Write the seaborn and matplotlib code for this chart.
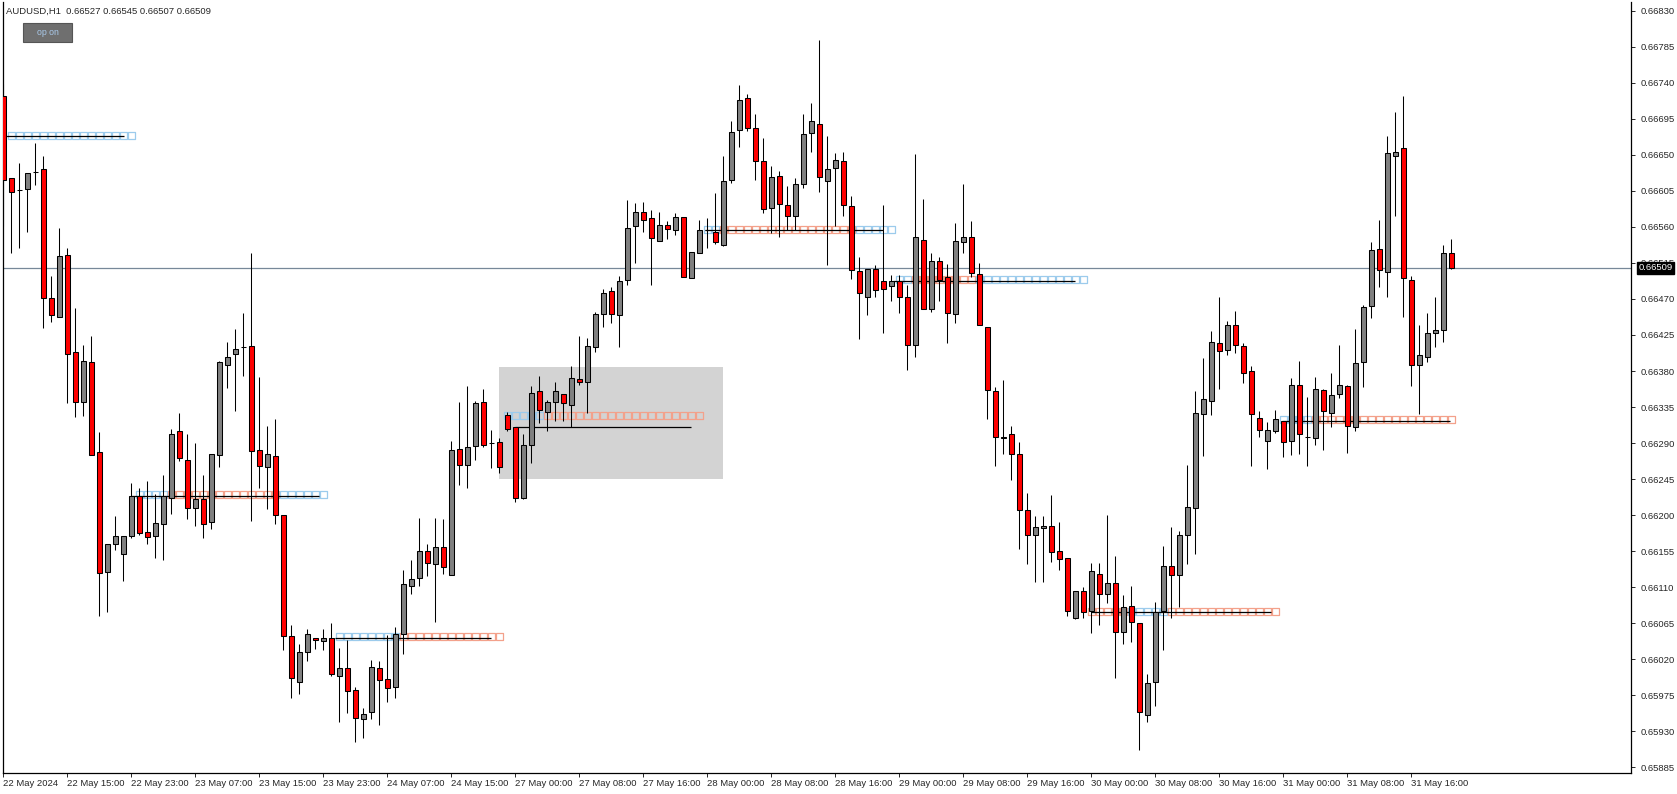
"""AUDUSD H1 candlestick chart, MT4 style."""
import matplotlib

matplotlib.use("Agg")
import matplotlib.pyplot as plt
import numpy as np
import pandas as pd
import seaborn as sns

# OHLC in points (1 point = 0.00001)
open_pts = [
    66723, 66621, 66606, 66607, 66628, 66632, 66471, 66447, 66525, 66404,
    66341, 66391, 66279, 66129, 66164, 66151, 66174, 66224, 66179, 66174,
    66189, 66222, 66305, 66269, 66209, 66220, 66191, 66275, 66388, 66401,
    66410, 66411, 66281, 66260, 66274, 66200, 66049, 65992, 66029, 66047,
    66043, 66047, 65999, 66009, 65981, 65945, 65954, 66009, 65995, 65985,
    66051, 66112, 66121, 66155, 66139, 66160, 66125, 66282, 66262, 66286,
    66341, 66290, 66291, 66325, 66310, 66222, 66287, 66355, 66329, 66341,
    66351, 66337, 66370, 66366, 66410, 66451, 66480, 66450, 66494, 66561,
    66579, 66571, 66543, 66562, 66556, 66572, 66496, 66528, 66556, 66554,
    66538, 66619, 66681, 66721, 66683, 66642, 66583, 66623, 66587, 66573,
    66613, 66677, 66689, 66617, 66634, 66642, 66586, 66505, 66473, 66507,
    66492, 66486, 66493, 66472, 66413, 66544, 66457, 66517, 66497, 66451,
    66541, 66547, 66501, 66435, 66355, 66296, 66301, 66276, 66206, 66175,
    66184, 66186, 66155, 66146, 66072, 66105, 66080, 66126, 66102, 66115,
    66054, 66086, 66065, 65950, 65991, 66080, 66136, 66125, 66175, 66209,
    66326, 66343, 66415, 66406, 66437, 66411, 66380, 66321, 66293, 66305,
    66318, 66292, 66362, 66298, 66296, 66356, 66327, 66351, 66361, 66310,
    66391, 66461, 66532, 66504, 66648, 66658, 66494, 66387, 66398, 66428,
    66431, 66527,
]
high_pts = [
    66739, 66621, 66640, 66627, 66665, 66648, 66499, 66559, 66534, 66459,
    66412, 66424, 66304, 66164, 66199, 66174, 66240, 66234, 66242, 66226,
    66250, 66307, 66328, 66301, 66290, 66250, 66276, 66392, 66416, 66432,
    66453, 66527, 66372, 66311, 66320, 66200, 66063, 66039, 66058, 66047,
    66058, 66065, 66034, 66044, 65985, 65959, 66019, 66018, 66050, 66060,
    66131, 66144, 66197, 66164, 66196, 66195, 66293, 66341, 66361, 66342,
    66357, 66306, 66296, 66329, 66310, 66301, 66361, 66374, 66344, 66366,
    66351, 66386, 66424, 66421, 66454, 66482, 66485, 66499, 66594, 66590,
    66591, 66581, 66579, 66567, 66577, 66572, 66529, 66569, 66571, 66602,
    66649, 66692, 66737, 66726, 66701, 66671, 66636, 66630, 66611, 66621,
    66701, 66715, 66793, 66673, 66652, 66653, 66599, 66522, 66507, 66512,
    66587, 66500, 66500, 66488, 66651, 66595, 66527, 66522, 66514, 66565,
    66614, 66567, 66515, 66435, 66360, 66369, 66311, 66291, 66228, 66199,
    66199, 66225, 66192, 66147, 66105, 66110, 66140, 66140, 66200, 66149,
    66100, 66111, 66065, 66001, 66092, 66162, 66185, 66180, 66263, 66355,
    66396, 66430, 66472, 66443, 66455, 66415, 66386, 66330, 66316, 66331,
    66318, 66371, 66393, 66348, 66372, 66357, 66378, 66412, 66362, 66433,
    66462, 66541, 66569, 66673, 66704, 66723, 66499, 66438, 66453, 66472,
    66537, 66545,
]
low_pts = [
    66561, 66527, 66534, 66554, 66612, 66434, 66441, 66447, 66340, 66323,
    66324, 66275, 66074, 66079, 66157, 66118, 66172, 66175, 66164, 66147,
    66144, 66201, 66268, 66195, 66186, 66171, 66183, 66260, 66359, 66330,
    66374, 66193, 66234, 66208, 66189, 66031, 65971, 65976, 66018, 66033,
    66031, 65999, 65941, 65953, 65917, 65921, 65945, 65938, 65966, 65972,
    66027, 66102, 66112, 66124, 66066, 66126, 66125, 66237, 66234, 66269,
    66285, 66259, 66253, 66305, 66216, 66220, 66265, 66315, 66305, 66318,
    66317, 66310, 66362, 66327, 66404, 66435, 66440, 66410, 66487, 66515,
    66554, 66487, 66542, 66545, 66550, 66498, 66496, 66528, 66534, 66539,
    66536, 66615, 66660, 66680, 66618, 66577, 66553, 66547, 66556, 66556,
    66609, 66653, 66603, 66512, 66561, 66574, 66495, 66420, 66450, 66473,
    66427, 66467, 66453, 66381, 66398, 66458, 66454, 66467, 66415, 66440,
    66527, 66498, 66437, 66320, 66261, 66276, 66244, 66158, 66139, 66116,
    66116, 66141, 66132, 66074, 66070, 66071, 66053, 66063, 66090, 65996,
    66039, 66042, 65907, 65941, 65962, 66032, 66072, 66085, 66139, 66152,
    66274, 66325, 66357, 66400, 66402, 66365, 66261, 66297, 66257, 66303,
    66273, 66275, 66276, 66261, 66288, 66281, 66310, 66346, 66277, 66305,
    66360, 66446, 66485, 66472, 66574, 66448, 66361, 66326, 66391, 66410,
    66416, 66507,
]
close_pts = [
    66619, 66604, 66606, 66627, 66628, 66471, 66450, 66524, 66401, 66341,
    66393, 66275, 66128, 66164, 66174, 66174, 66224, 66178, 66173, 66190,
    66224, 66301, 66271, 66209, 66220, 66189, 66276, 66391, 66397, 66408,
    66410, 66280, 66261, 66276, 66200, 66049, 65996, 66029, 66052, 66044,
    66046, 66001, 66009, 65980, 65946, 65952, 66010, 65994, 65984, 66052,
    66114, 66120, 66155, 66140, 66160, 66135, 66281, 66263, 66285, 66340,
    66288, 66290, 66260, 66308, 66221, 66288, 66353, 66331, 66341, 66355,
    66340, 66371, 66366, 66411, 66451, 66478, 66451, 66492, 66559, 66578,
    66569, 66546, 66562, 66557, 66572, 66498, 66529, 66556, 66556, 66541,
    66617, 66679, 66719, 66683, 66642, 66582, 66622, 66588, 66574, 66614,
    66676, 66692, 66622, 66632, 66644, 66587, 66506, 66477, 66507, 66481,
    66482, 66492, 66472, 66412, 66547, 66458, 66517, 66494, 66452, 66542,
    66547, 66502, 66437, 66356, 66297, 66298, 66276, 66207, 66175, 66185,
    66187, 66154, 66145, 66080, 66105, 66079, 66130, 66101, 66115, 66054,
    66085, 66066, 65954, 65990, 66079, 66137, 66125, 66175, 66210, 66327,
    66345, 66416, 66405, 66438, 66412, 66378, 66326, 66306, 66306, 66320,
    66291, 66363, 66301, 66298, 66357, 66330, 66350, 66362, 66311, 66390,
    66460, 66531, 66506, 66652, 66653, 66496, 66388, 66400, 66427, 66431,
    66527, 66509,
]

# time axis labels, one every 8 bars
time_labels = [
    "22 May 2024", "22 May 15:00", "22 May 23:00", "23 May 07:00", "23 May 15:00",
    "23 May 23:00", "24 May 07:00", "24 May 15:00", "27 May 00:00", "27 May 08:00",
    "27 May 16:00", "28 May 00:00", "28 May 08:00", "28 May 16:00", "29 May 00:00",
    "29 May 08:00", "29 May 16:00", "30 May 00:00", "30 May 08:00", "30 May 16:00",
    "31 May 00:00", "31 May 08:00", "31 May 16:00",
]
label_every = 8

# price levels drawn as rows of squares + a black line
level_price = [0.66674, 0.66226, 0.66048, 0.66325, 0.66557, 0.66494, 0.66080, 0.66319]
line_price = [0.66673, 0.66224, 0.66047, 0.66310, 0.66556, 0.66493, 0.66079, 0.66318]
line_from = [0.3, 16, 41.5, 64, 87.7, 111.2, 136, 159.8]
line_to = [15.1, 39.4, 61, 86, 110, 134, 158.4, 180.8]

seg_level = [0, 1, 1, 1, 2, 2, 3, 3, 4, 4, 4, 5, 5, 5, 6, 6, 6, 7, 7]
seg_first = [1, 17, 21, 35, 42, 50, 63, 68, 88, 90, 107, 112, 114, 122, 136, 141, 146, 160, 164]
seg_last = [16, 20, 34, 40, 49, 62, 67, 87, 89, 106, 111, 113, 121, 135, 140, 145, 159, 163, 181]
seg_kind = ["buy", "buy", "sell", "buy", "buy", "sell", "buy", "sell", "buy", "sell",
            "buy", "buy", "sell", "buy", "sell", "buy", "sell", "buy", "sell"]

# grey zone
zone_bars = [62, 90]
zone_low, zone_high = 0.662455, 0.663854

last_price = 0.66509
price_ticks = [0.65885 + 0.00045 * k for k in range(22)]
title = "AUDUSD,H1  0.66527 0.66545 0.66507 0.66509"

df = pd.DataFrame({
    "open": np.array(open_pts) / 1e5,
    "high": np.array(high_pts) / 1e5,
    "low": np.array(low_pts) / 1e5,
    "close": np.array(close_pts) / 1e5,
})
df["bar"] = np.arange(len(df))
df["bull"] = df["close"] >= df["open"]

rows = []
for lv, a, b, kind in zip(seg_level, seg_first, seg_last, seg_kind):
    for i in range(a, b + 1):
        rows.append({"bar": i, "price": level_price[lv], "kind": kind})
squares = pd.DataFrame(rows)

sns.set_style("white")
plt.rcParams["font.family"] = ["Liberation Sans", "DejaVu Sans"]

fig = plt.figure(figsize=(16.77, 7.94), dpi=100)
ax = fig.add_axes([0.0015, 0.02695, 0.97108, 0.97053])

ax.fill_between(zone_bars, zone_low, zone_high, color="#d3d3d3", lw=0, zorder=0)
ax.axhline(last_price, color="#778899", lw=0.9, zorder=1)

sns.scatterplot(data=squares, x="bar", y="price", hue="kind", marker="s", s=26,
                palette={"buy": "#9ccbec", "sell": "#f3a18b"}, legend=False,
                linewidth=0.9, ax=ax, zorder=2)
pts = ax.collections[-1]
pts.set_edgecolors(pts.get_facecolors())
pts.set_facecolors("none")

ax.hlines(line_price, line_from, line_to, color="black", lw=0.9, zorder=3)

ax.vlines(df["bar"], df["low"], df["high"], color="black", lw=0.75, zorder=4)
body_colors = np.where(df["bull"], "#808080", "#ff0000")
ax.bar(df["bar"], df["close"] - df["open"], bottom=df["open"], width=0.55,
       color=body_colors, edgecolor="black", linewidth=0.75, zorder=5)

ax.set_xlim(-0.1, 203.46)
ax.set_ylim(0.658784, 0.668409)

ticks = [label_every * k for k in range(len(time_labels))]
ax.set_xticks(ticks)
ax.set_xticklabels(time_labels, ha="left", fontsize=6.8)
ax.yaxis.tick_right()
ax.set_yticks(price_ticks)
ax.set_yticklabels([f"{p:.5f}" for p in price_ticks], fontsize=6.8)
ax.tick_params(axis="x", direction="out", length=3, width=0.7, pad=1.5, bottom=True)
ax.tick_params(axis="y", direction="out", length=3, width=0.7, pad=4, right=True, left=False)
ax.set_xlabel("")
ax.set_ylabel("")

for side in ["left", "bottom", "right"]:
    ax.spines[side].set_color("black")
    ax.spines[side].set_linewidth(0.9)
ax.spines["top"].set_visible(False)

ax.text(1.0045, last_price, f"{last_price:.5f}", transform=ax.get_yaxis_transform(),
        color="white", fontsize=6.8, va="center", ha="left", zorder=10, clip_on=False,
        bbox=dict(facecolor="black", edgecolor="black", pad=1.2))

fig.text(0.0035, 0.9855, title, fontsize=6.8, va="center", ha="left")
fig.patches.append(plt.Rectangle((0.0139, 0.9475), 0.0293, 0.0233, transform=fig.transFigure,
                                 facecolor="#6f6f6f", edgecolor="#555555", lw=0.8))
fig.text(0.0286, 0.9592, "op on", fontsize=6.3, color="#a9c9ea", ha="center", va="center")

fig.savefig("out.png", dpi=100)
